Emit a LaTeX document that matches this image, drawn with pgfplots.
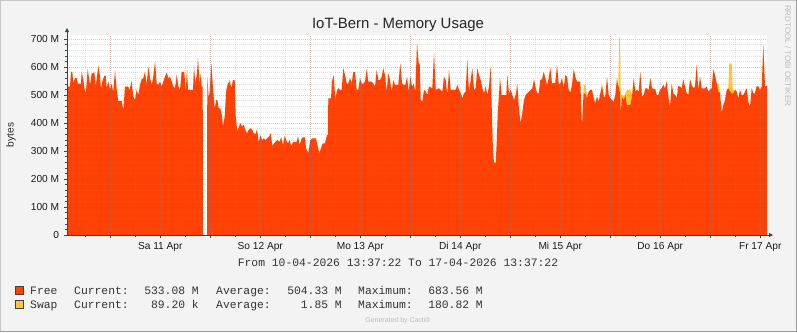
\documentclass[border=0pt]{standalone}
\usepackage{fontspec}
\setmainfont{Liberation Sans}
\newfontfamily\monofont{Liberation Mono}
\usepackage{pgfplots}
\pgfplotsset{compat=1.18}
\usepackage{pgfplotstable}
\usetikzlibrary{arrows.meta}
\definecolor{freec}{HTML}{FF4105}
\definecolor{swapc}{HTML}{FFC73B}
\definecolor{bgc}{HTML}{F3F3F3}
\definecolor{axc}{HTML}{2C4D43}
\definecolor{mgridc}{HTML}{B04040}
\definecolor{gridc}{HTML}{8C8C8C}
\definecolor{lightt}{HTML}{BBBBBB}

\pgfplotstableread{
x free swap
0 565 0
1.3 530 0
3 530 0
4 583 0
5.3 583 0
6.3 541 0
8 560 0
9.7 560 0
10.7 541 0
14 541 0
14.7 583 0
16.3 553 0
18 512 0
19 512 0
20.7 592 0
23 535 0
24.7 577 0
26.3 577 0
27.3 583 0
28.7 530 0
31.3 603 0
33 565 0
34 521 0
35.3 548 0
37.3 568 0
38.7 568 0
39.7 524 0
41.3 548 0
43 520 0
44.7 541 0
46.3 508 0
48 587 0
49.7 518 0
51.3 478 0
54.7 478 0
56.3 446 0
58 530 0
61.3 530 0
62.3 515 0
64.7 548 0
66.3 494 0
68 482 0
69.7 518 0
71.3 500 0
73 536 0
74.7 556 0
76.3 560 0
78 583 0
79.7 536 0
81.3 601 0
83 560 0
84.7 536 0
86.3 565 0
88 619 0
89.7 541 0
91.3 536 0
93 548 0
94.7 530 0
96.3 548 0
98 565 0
99.7 580 0
101.3 560 0
103 565 0
104.7 548 0
106.3 530 0
108 524 0
109.7 571 0
111.3 530 0
113 518 0
114.7 583 0
117.3 583 0
118.7 512 0
120 589 0
121 518 0
126 518 0
127 601 0
128.3 541 0
130 577 0
131 631 0
132.7 536 0
133.7 577 0
134.7 530 0
135.7 530 0
136 0 0
140 0 0
140.3 565 0
141.7 488 0
142.7 512 0
144.3 613 0
146 524 0
147.7 452 0
149.3 482 0
150.3 482 0
151.7 452 0
153.3 452 0
155 423 0
156 387 0
157.7 423 0
159.3 518 0
161 541 0
162.7 548 8
164.3 524 0
166 553 0
167.7 553 0
168.7 423 0
170.3 369 0
172 387 0
173.3 399 0
175 387 0
176.7 393 0
178.3 375 0
180 363 0
181.7 375 0
183.3 381 0
185.3 375 0
186.7 363 0
188.7 361 0
190 378 0
191.7 330 0
193.3 357 0
195 339 0
196.7 345 0
198.7 339 0
200 345 0
202 351 0
203.7 363 0
205.3 318 0
207 327 0
208.7 333 0
210.3 339 0
212.7 333 0
214.3 349 0
216 321 0
217.7 354 0
219.3 337 0
221 327 0
222.7 339 0
224.3 315 0
226 333 0
227.7 333 0
229.3 330 0
231 351 0
232.7 321 0
234.3 341 0
235.7 349 0
238 349 0
239 310 0
241.3 292 0
243.3 339 0
245.7 345 0
249 345 0
250 327 0
252.3 292 0
254 310 0
255.7 327 0
258 327 0
260 357 0
261 357 0
261.3 488 0
264 488 0
265 548 0
266.7 571 0
268.3 482 0
269.7 512 0
271.3 524 0
273 518 0
274.7 518 0
276.3 595 0
278 571 0
279.7 541 0
281.3 541 0
283 560 0
284.7 541 0
286.3 583 0
288 581 0
289.7 518 0
291.3 518 0
293 560 0
294.7 541 0
296.3 541 0
298 548 0
299.7 592 0
301.3 548 0
303 548 0
304.7 548 0
306.3 541 0
308 530 0
309.7 589 0
311.3 553 0
313 553 0
314.7 565 0
316.3 595 0
318 571 0
319.7 512 0
321.3 577 0
323 553 0
324.7 512 0
326.3 553 0
328 536 0
329.7 536 0
331.3 536 0
333.3 613 0
335 541 0
336.7 536 0
338.3 536 0
340 565 0
341.7 512 0
343.3 565 0
345 530 0
346.7 541 0
348.3 512 0
350 684 0
351.7 613 0
352.7 613 0
353.7 482 0
355.3 476 0
357 518 0
358.7 512 0
360.3 500 0
362 530 0
365.3 524 0
367 649 0
368.7 518 0
372 524 0
373.7 518 0
375.3 512 0
377 565 0
378.7 553 0
380.3 500 0
382 589 0
383.7 518 0
388.7 518 0
390.3 536 0
392 518 0
393.7 506 0
395.3 488 0
397 506 0
398.7 512 0
400.3 627 0
402 512 0
403.7 553 0
405.3 595 0
407 518 0
408.7 524 0
410.3 595 0
412 571 0
413.7 553 0
415.3 524 0
417 506 0
418.7 530 0
420.3 500 0
422 530 0
423.7 601 0
425 417 0
426 300 0
427 257 4
428.7 257 4
429.7 330 0
430.7 429 0
433 560 0
434.7 500 0
439.3 500 0
440.3 571 0
442 506 0
443.7 518 0
445.3 500 0
447 482 0
448.7 500 0
450.3 539 0
452 446 0
453.7 399 0
455.3 435 0
457 482 0
458.7 500 0
460.3 506 0
463.7 518 0
465.3 524 0
467 556 0
468.7 524 0
470.3 506 0
471.7 506 0
473.3 553 0
475 556 0
476.7 583 0
478.3 560 0
480 536 0
481.7 560 0
483.3 598 0
485 541 0
488.3 544 0
490 607 0
491.7 541 0
493.3 541 0
495 560 0
496.7 524 0
498.3 571 0
500 565 0
501.7 518 0
503.3 508 0
505 536 0
506.7 592 0
508.3 565 0
510 548 0
513.3 548 0
514.3 450 0
515 387 0
516 470 10
516.7 506 30
518.3 506 30
520 488 10
521.7 512 0
523.3 518 0
525 518 0
526.7 488 0
528.3 470 0
530 494 0
531.7 476 0
533.3 506 0
535 536 0
536.7 494 0
538.3 494 0
540 565 0
541.7 500 0
543.3 488 0
545 482 0
546.7 476 0
548.3 500 0
550 560 0
551.2 530 0
551.8 530 100
552.3 530 182
553 500 200
553.8 440 60
555 494 6
556.7 482 12
558.3 500 6
560 464 54
563.3 464 54
565 494 6
566.7 560 0
568.3 512 0
570 518 0
571.7 512 0
573.3 583 0
575 494 0
576.7 500 0
578.3 524 0
580 524 0
581.7 518 0
583.3 560 0
585 524 0
588.3 520 0
589.7 500 0
591.3 500 0
593 518 0
594.7 524 0
596.3 536 0
598 524 0
599.7 548 0
601.3 494 0
603 458 0
604.7 541 0
606.3 506 0
608 500 0
609.7 488 0
611.3 532 0
613 530 0
614.7 524 0
616.3 556 0
618 530 0
619.7 506 0
621.3 500 0
623 556 0
624.7 536 0
626.3 524 0
628 530 0
629.7 607 0
631.3 518 0
633 565 0
634.7 524 0
638 524 0
639.7 530 0
641.3 512 0
643 518 0
644.7 524 0
646.3 592 0
648 571 0
649.7 541 0
651.3 512 30
653 508 0
654.7 435 0
656.3 464 0
658 482 0
659.7 518 0
661.3 524 0
662.3 518 95
664.7 506 107
665.7 506 20
666.3 506 10
668 518 0
669.7 512 0
671.3 488 0
673 518 0
674.7 500 0
676.3 500 0
678 512 0
679.7 524 0
681.3 476 0
683 458 0
684.7 524 0
686.3 506 0
688 506 0
689.7 532 0
691.3 530 0
693 518 0
694.7 530 0
696.3 679 0
698 530 0
700 533 0
}\memdata

\begin{document}
\begin{tikzpicture}[x=1bp,y=1bp]
\fill[bgc] (0,0) rectangle (797,332);
\draw[line width=1bp, color=black!22] (0.5,0.5) -- (0.5,331.5) -- (796.5,331.5);
\draw[line width=1bp, color=black!40] (0.5,0.5) -- (796.5,0.5) -- (796.5,331.5);
\begin{axis}[
  at={(67bp,97bp)}, anchor=south west, scale only axis,
  width=700bp, height=200bp,
  xmin=0, xmax=700, ymin=0, ymax=714.3,
  axis background/.style={fill=white},
  axis on top,
  axis x line*=bottom, axis y line*=left,
  axis line style={draw=axc, line width=0.8bp},
  x axis line style={-{Triangle[length=4bp,width=4bp]}, shorten >=-6bp},
  y axis line style={-{Triangle[length=4bp,width=4bp]}, shorten >=-7bp},
  xtick={93.24,193.24,293.24,393.24,493.24,593.24,693.24},
  xticklabels={Sa 11 Apr,So 12 Apr,Mo 13 Apr,Di 14 Apr,Mi 15 Apr,Do 16 Apr,Fr 17 Apr},
  minor xtick={18.24,43.24,68.24,93.24,118.24,143.24,168.24,193.24,218.24,243.24,268.24,293.24,318.24,343.24,368.24,393.24,418.24,443.24,468.24,493.24,518.24,543.24,568.24,593.24,618.24,643.24,668.24,693.24},
  extra x ticks={43.24,143.24,243.24,343.24,443.24,543.24,643.24},
  extra x tick labels={},
  extra x tick style={grid=major},
  xminorgrids=true, ymajorgrids=true, yminorgrids=true,
  ytick={0,100,200,300,400,500,600,700},
  yticklabels={0,100 M,200 M,300 M,400 M,500 M,600 M,700 M},
  minor y tick num=4,
  major grid style={draw=mgridc, opacity=0.27, dash pattern=on 1bp off 1bp, line width=0.6bp},
  minor grid style={draw=gridc, opacity=0.25, dash pattern=on 1bp off 1bp, line width=0.6bp},
  tick style={draw=axc, line width=0.6bp},
  major tick length=3bp, minor tick length=2bp,
  tick align=outside,
  tick label style={font=\fontsize{10.2}{12}\selectfont, text=black!90},
  yticklabel style={anchor=east, inner sep=0pt, xshift=-4.7bp},
  xticklabel style={anchor=base, inner sep=0pt, yshift=-11.3bp},
  stack plots=y,
]
\addplot[fill=freec, draw=none] table[x=x, y=free] {\memdata} \closedcycle;
\addplot[fill=swapc, draw=none] table[x=x, y=swap] {\memdata} \closedcycle;
\end{axis}
% title and labels
\node[anchor=base, font=\fontsize{15}{18}\selectfont, text=black!85] at (398,303.7) {IoT-Bern - Memory Usage};
\node[rotate=90, font=\fontsize{10.2}{12}\selectfont, text=black!85] at (11,197) {bytes};
\node[rotate=-90, anchor=west, font=\fontsize{8}{9}\selectfont, text=lightt, inner sep=0pt] at (788,327) {RRDTOOL / TOBI OETIKER};
\node[anchor=base, inner sep=0pt, font=\monofont\fontsize{11.4}{12}\selectfont, text=black!80] at (398,66) {From 10-04-2026 13:37:22 To 17-04-2026 13:37:22};
% legend
\filldraw[fill=freec, draw=black!75, line width=0.8bp] (15.5,37.5) rectangle (23.5,45.5);
\filldraw[fill=swapc, draw=black!75, line width=0.8bp] (15.5,23.5) rectangle (23.5,31.5);
\begin{scope}[every node/.style={font=\monofont\fontsize{11.4}{12}\selectfont, text=black!80, inner sep=0pt}]
\node[anchor=base west] at (30,37.7) {Free};
\node[anchor=base west] at (74,37.7) {Current:};
\node[anchor=base east] at (199,37.7) {533.08 M};
\node[anchor=base west] at (216,37.7) {Average:};
\node[anchor=base east] at (342,37.7) {504.33 M};
\node[anchor=base west] at (358,37.7) {Maximum:};
\node[anchor=base east] at (483,37.7) {683.56 M};
\node[anchor=base west] at (30,24) {Swap};
\node[anchor=base west] at (74,24) {Current:};
\node[anchor=base east] at (199,24) {89.20 k};
\node[anchor=base west] at (216,24) {Average:};
\node[anchor=base east] at (342,24) {1.85 M};
\node[anchor=base west] at (358,24) {Maximum:};
\node[anchor=base east] at (483,24) {180.82 M};
\end{scope}
\node[font=\fontsize{7}{8}\selectfont, text=lightt] at (398,11) {Generated by Cacti®};
\pgfresetboundingbox
\useasboundingbox (0,0) rectangle (797,332);
\end{tikzpicture}
\end{document}
